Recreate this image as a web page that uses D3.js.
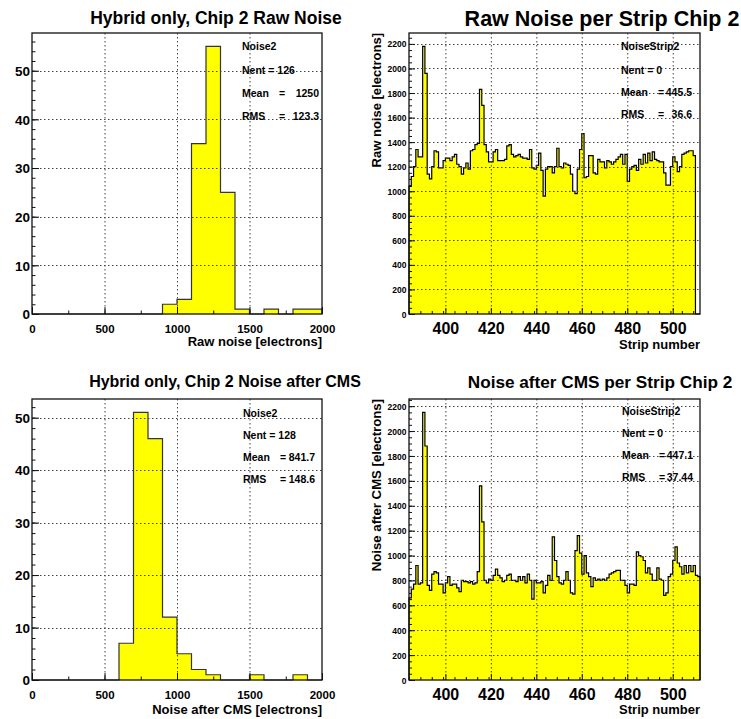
<!DOCTYPE html>
<html>
<head>
<meta charset="utf-8">
<script src="https://cdn.jsdelivr.net/npm/d3@7/dist/d3.min.js"></script>
<style>
  body { margin: 0; background: #fff; }
  svg { display: block; font-family: "Liberation Sans", Arial, Helvetica, sans-serif; font-weight: bold; }
</style>
</head>
<body>
<div id="chart"></div>
<script>
// bin lower edges for the noise distributions (100 e- wide)
var noiseBins = [0, 100, 200, 300, 400, 500, 600, 700, 800, 900,
                 1000, 1100, 1200, 1300, 1400, 1500, 1600, 1700, 1800, 1900];
var rawNoiseCounts = [0, 0, 0, 0, 0, 0, 0, 0, 0, 2,
                      3, 35, 55, 25, 1, 0, 1, 0, 1, 1];
var cmsNoiseCounts = [0, 0, 0, 0, 0, 0, 7, 51, 46, 12,
                      5, 2, 1, 0, 0, 1, 0, 0, 1, 0];

// strips 384..511 of chip 2
var strips = d3.range(384, 512);
var rawStripNoise = [
  1040, 1120, 1200, 1340, 1280, 1280, 2180, 1960, 1140, 1100, 1200, 1330, 1320, 1190, 1190, 1250,
  1270, 1270, 1250, 1280, 1300, 1220, 1200, 1140, 1190, 1230, 1180, 1330, 1340, 1380, 1390, 1830,
  1700, 1380, 1320, 1240, 1240, 1320, 1340, 1250, 1250, 1250, 1260, 1370, 1380, 1300, 1280, 1290,
  1300, 1280, 1270, 1270, 1260, 1340, 1190, 1180, 1210, 1310, 1170, 960, 1180, 1200, 1200, 1150,
  1200, 1350, 1200, 1190, 1230, 1220, 1210, 1140, 1000, 980, 1180, 1340, 1470, 1110, 1120, 1290,
  1290, 1150, 1140, 1260, 1240, 1240, 1190, 1250, 1240, 1220, 1240, 1260, 1280, 1300, 1220, 1300,
  1080, 1180, 1200, 1210, 1170, 1260, 1220, 1300, 1230, 1310, 1250, 1320, 1260, 1250, 1240, 1240,
  1150, 1050, 1050, 1200, 1280, 1240, 1160, 1200, 1300, 1310, 1320, 1330, 1330, 1290, 0, 0
];
var cmsStripNoise = [
  660, 730, 770, 920, 770, 780, 2150, 1880, 760, 720, 850, 870, 860, 770, 770, 700,
  780, 830, 760, 770, 770, 740, 710, 800, 790, 790, 780, 790, 770, 780, 870, 1560,
  1270, 800, 780, 810, 800, 840, 890, 840, 820, 790, 800, 840, 850, 800, 800, 790,
  830, 800, 830, 780, 850, 800, 650, 800, 780, 780, 790, 700, 760, 840, 800, 1150,
  960, 830, 780, 770, 800, 870, 800, 700, 690, 1040, 1160, 1020, 850, 1000, 860, 830,
  750, 820, 800, 810, 800, 810, 800, 820, 850, 860, 870, 880, 880, 800, 800, 760,
  700, 770, 770, 760, 1030, 1000, 990, 960, 860, 900, 850, 800, 800, 900, 810, 800,
  680, 700, 830, 850, 960, 1070, 940, 910, 850, 920, 860, 920, 870, 920, 840, 830
];

var noiseXTicks = [0, 500, 1000, 1500, 2000];
var countYTicks = [0, 10, 20, 30, 40, 50];
var stripXTicks = [400, 420, 440, 460, 480, 500];
var stripYTicks = [0, 200, 400, 600, 800, 1000, 1200, 1400, 1600, 1800, 2000, 2200];

var _width = 741, _height = 719;

var svg = d3.select('#chart').append('svg')
    .attr('width', _width)
    .attr('height', _height);

svg.append('rect').attr('width', _width).attr('height', _height).attr('fill', '#fff');

var drawPanel = function (p) {
    var g = svg.append('g');
    var x = d3.scaleLinear().domain(p.xDomain).range([p.left, p.right]);
    var yMax = d3.max(p.values) * 1.05;
    var y = d3.scaleLinear().domain([0, yMax]).range([p.bottom, p.top]);

    // histogram as steps
    var pts = p.lows.map(function (lo, i) { return [lo, p.values[i]]; });
    pts.push([p.xDomain[1], p.values[p.values.length - 1]]);

    g.append('path')
        .attr('d', d3.area().curve(d3.curveStepAfter)
            .x(function (d) { return x(d[0]); })
            .y0(y(0))
            .y1(function (d) { return y(d[1]); })(pts))
        .attr('fill', '#ffff00');

    var outline = [[p.lows[0], 0]].concat(pts, [[p.xDomain[1], 0]]);
    g.append('path')
        .attr('d', d3.line().curve(d3.curveStepAfter)
            .x(function (d) { return x(d[0]); })
            .y(function (d) { return y(d[1]); })(outline))
        .attr('fill', 'none')
        .attr('stroke', p.lineColor)
        .attr('stroke-width', 1.2);

    // grid
    var gGrid = g.append('g')
        .attr('stroke', '#444')
        .attr('stroke-width', 1)
        .attr('stroke-dasharray', '1.5,2.5');
    gGrid.selectAll('.gx')
        .data(p.xTicks.filter(function (v) { return v > p.xDomain[0] && v < p.xDomain[1]; }))
        .enter().append('line')
        .attr('x1', function (d) { return x(d) + 0.5; })
        .attr('x2', function (d) { return x(d) + 0.5; })
        .attr('y1', p.top).attr('y2', p.bottom);
    gGrid.selectAll('.gy')
        .data(p.yTicks.filter(function (v) { return v > 0; }))
        .enter().append('line')
        .attr('y1', function (d) { return Math.round(y(d)) + 0.5; })
        .attr('y2', function (d) { return Math.round(y(d)) + 0.5; })
        .attr('x1', p.left).attr('x2', p.right);

    // frame
    g.append('rect')
        .attr('x', p.left).attr('y', p.top)
        .attr('width', p.right - p.left).attr('height', p.bottom - p.top)
        .attr('fill', 'none')
        .attr('stroke', '#111')
        .attr('stroke-width', 1.3);

    // minor ticks
    var xMinor = g.append('g')
        .attr('transform', 'translate(0,' + p.bottom + ')')
        .call(d3.axisBottom(x).tickValues(d3.range(p.xDomain[0], p.xDomain[1], p.xMinorStep))
            .tickSize(-p.minorLen).tickFormat(''));
    var yMinor = g.append('g')
        .attr('transform', 'translate(' + p.left + ',0)')
        .call(d3.axisLeft(y).tickValues(d3.range(0, yMax, p.yMinorStep))
            .tickSize(-p.minorLen).tickFormat(''));

    // major ticks with labels
    var xAxis = g.append('g')
        .attr('transform', 'translate(0,' + p.bottom + ')')
        .call(d3.axisBottom(x).tickValues(p.xTicks).tickSize(-p.majorLen).tickFormat(d3.format('d')));
    xAxis.selectAll('text')
        .attr('y', p.xLabelY).attr('dy', 0)
        .style('font-size', p.xLabelSize + 'px')
        .style('font-weight', 'bold')
        .attr('fill', '#000');

    var yAxis = g.append('g')
        .attr('transform', 'translate(' + p.left + ',0)')
        .call(d3.axisLeft(y).tickValues(p.yTicks).tickSize(-p.majorLen).tickFormat(d3.format('d')));
    yAxis.selectAll('text')
        .attr('x', -p.yLabelPad)
        .attr('dy', '0.36em')
        .style('font-size', p.yLabelSize + 'px')
        .style('font-weight', 'bold')
        .attr('fill', '#000');

    [xMinor, yMinor, xAxis, yAxis].forEach(function (a) {
        a.attr('font-family', null);
        a.select('.domain').remove();
        a.selectAll('line').attr('stroke', '#111');
    });

    // titles
    g.append('text')
        .attr('x', p.titleX).attr('y', p.titleY)
        .attr('text-anchor', 'middle')
        .style('font-size', p.titleSize + 'px')
        .text(p.title);

    g.append('text')
        .attr('x', p.right).attr('y', p.xTitleY)
        .attr('text-anchor', 'end')
        .style('font-size', p.xTitleSize + 'px')
        .text(p.xTitle);

    if (p.yTitle) {
        g.append('text')
            .attr('transform', 'translate(' + p.yTitleX + ',' + p.top + ') rotate(-90)')
            .attr('text-anchor', 'end')
            .style('font-size', p.yTitleSize + 'px')
            .text(p.yTitle);
    }

    // stats box
    var gStats = g.append('g').style('font-size', '10.5px');
    gStats.append('text').attr('x', p.statX).attr('y', p.statY[0]).text(p.statName);
    gStats.append('text').attr('x', p.statX).attr('y', p.statY[1]).text('Nent = ' + p.nent);
    [['Mean', p.mean], ['RMS', p.rms]].forEach(function (s, i) {
        var yy = p.statY[i + 2];
        gStats.append('text').attr('x', p.statX).attr('y', yy).text(s[0]);
        gStats.append('text').attr('x', p.statX + 40).attr('y', yy).attr('text-anchor', 'middle').text('=');
        gStats.append('text').attr('x', p.statEnd).attr('y', yy).attr('text-anchor', 'end').text(s[1]);
    });
};

var leftPanel = {
    lows: noiseBins, xDomain: [0, 2000], left: 32, right: 322,
    xTicks: noiseXTicks, yTicks: countYTicks, xMinorStep: 250, yMinorStep: 2,
    majorLen: 7, minorLen: 3.5, lineColor: '#333',
    xLabelY: 19, xLabelSize: 11.5, yLabelPad: 2, yLabelSize: 13.5,
    titleSize: 17.5, xTitleSize: 13, statName: 'Noise2'
};
var rightPanel = {
    lows: strips, xDomain: [384, 512], left: 409, right: 700,
    xTicks: stripXTicks, yTicks: stripYTicks, xMinorStep: 5, yMinorStep: 50,
    majorLen: 6, minorLen: 3, lineColor: '#000',
    xLabelY: 20, xLabelSize: 16, yLabelPad: 2.5, yLabelSize: 8.5,
    xTitleSize: 13, yTitleX: 381, statName: 'NoiseStrip2'
};

drawPanel(Object.assign({}, leftPanel, {
    values: rawNoiseCounts, top: 33, bottom: 314,
    title: 'Hybrid only, Chip 2 Raw Noise', titleX: 216, titleY: 24,
    xTitle: 'Raw noise [electrons]', xTitleY: 346,
    statX: 242, statEnd: 319, statY: [50, 74, 97, 120],
    nent: 126, mean: '1250', rms: '123.3'
}));

drawPanel(Object.assign({}, rightPanel, {
    values: rawStripNoise, top: 33, bottom: 314,
    title: 'Raw Noise per Strip Chip 2', titleX: 602, titleY: 26, titleSize: 21.5,
    xTitle: 'Strip number', xTitleY: 349,
    yTitle: 'Raw noise [electrons]', yTitleSize: 13,
    statX: 621, statEnd: 692, statY: [50, 74, 96, 118],
    nent: 0, mean: '445.5', rms: '36.6'
}));

drawPanel(Object.assign({}, leftPanel, {
    values: cmsNoiseCounts, top: 399, bottom: 680,
    title: 'Hybrid only, Chip 2 Noise after CMS', titleX: 225, titleY: 387, titleSize: 16,
    xTitle: 'Noise after CMS [electrons]', xTitleY: 714,
    statX: 243, statEnd: 315, statY: [417, 439, 461, 483],
    nent: 128, mean: '841.7', rms: '148.6'
}));

drawPanel(Object.assign({}, rightPanel, {
    values: cmsStripNoise, top: 399, bottom: 680,
    title: 'Noise after CMS per Strip Chip 2', titleX: 600, titleY: 388, titleSize: 17.2,
    xTitle: 'Strip number', xTitleY: 714,
    yTitle: 'Noise after CMS [electrons]', yTitleSize: 13.2,
    statX: 622, statEnd: 693, statY: [415, 437, 459, 481],
    nent: 0, mean: '447.1', rms: '37.44'
}));
</script>
</body>
</html>
